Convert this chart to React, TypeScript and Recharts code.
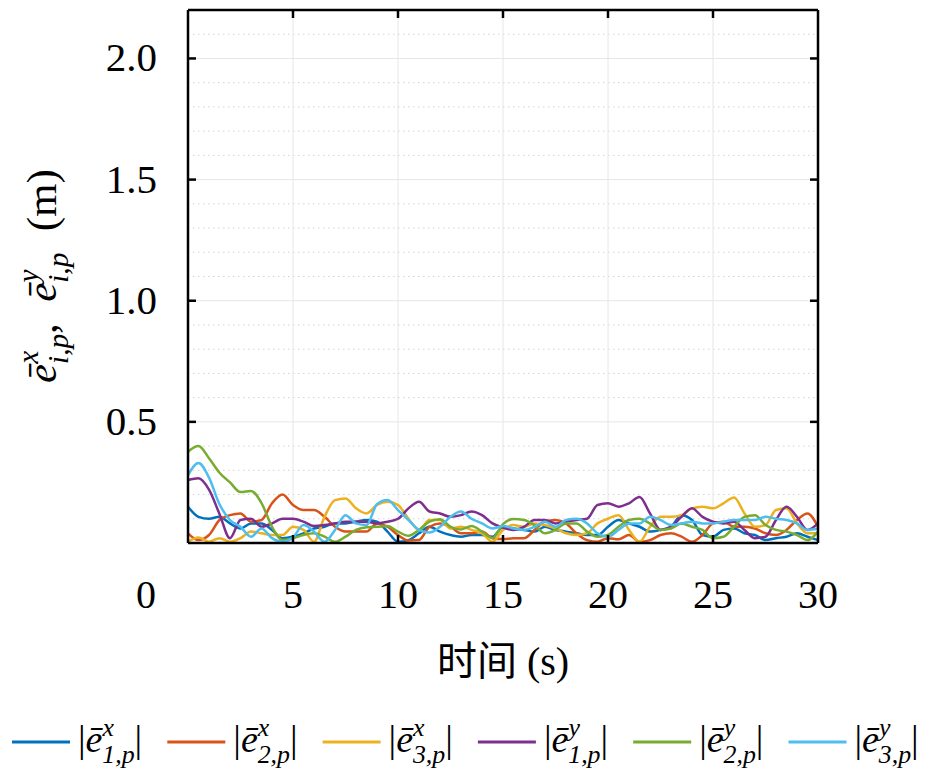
import { LineChart, Line, XAxis, YAxis, CartesianGrid } from "recharts";

const TIME = [
  0, 0.5, 1, 1.5, 2, 2.5, 3, 3.5, 4, 4.5,
  5, 5.5, 6, 6.5, 7, 7.5, 8, 8.5, 9, 9.5,
  10, 10.5, 11, 11.5, 12, 12.5, 13, 13.5, 14, 14.5,
  15, 15.5, 16, 16.5, 17, 17.5, 18, 18.5, 19, 19.5,
  20, 20.5, 21, 21.5, 22, 22.5, 23, 23.5, 24, 24.5,
  25, 25.5, 26, 26.5, 27, 27.5, 28, 28.5, 29, 29.5,
  30,
];

const E1X = [
  0.15, 0.108, 0.1, 0.108, 0.081, 0.06, 0.081, 0.081, 0.054, 0.02,
  0.026, 0.04, 0.06, 0.067, 0.081, 0.081, 0.088, 0.095, 0.088, 0.047,
  0.005, 0.012, 0.04, 0.067, 0.047, 0.033, 0.026, 0.033, 0.033, 0.026,
  0.065, 0.06, 0.054, 0.047, 0.067, 0.054, 0.047, 0.04, 0.033, 0.033,
  0.067, 0.095, 0.081, 0.067, 0.047, 0.054, 0.067, 0.115, 0.095, 0.033,
  0.026, 0.054, 0.06, 0.04, 0.033, 0.012, 0.02, 0.026, 0.04, 0.026,
  0.012,
];

const E2X = [
  0.04, 0.012, 0.033, 0.095, 0.115, 0.122, 0.088, 0.095, 0.164, 0.2,
  0.157, 0.136, 0.136, 0.108, 0.067, 0.047, 0.047, 0.047, 0.081, 0.067,
  0.033, 0.01, 0.012, 0.067, 0.081, 0.067, 0.04, 0.04, 0.047, 0.02,
  0.016, 0.02, 0.02, 0.054, 0.088, 0.095, 0.081, 0.04, 0.012, 0.005,
  0.02, 0.015, 0.033, 0.005, 0.012, 0.033, 0.04, 0.026, 0.005, 0.033,
  0.081, 0.088, 0.067, 0.067, 0.06, 0.04, 0.033, 0.054, 0.095, 0.122,
  0.067,
];

const E3X = [
  0.005, 0.023, 0.005, 0.02, 0.005, 0.02, 0.047, 0.04, 0.033, 0.033,
  0.067, 0.054, 0.005, 0.108, 0.177, 0.184, 0.143, 0.122, 0.157, 0.17,
  0.157, 0.1, 0.054, 0.095, 0.095, 0.06, 0.067, 0.054, 0.04, 0.005,
  0.054, 0.074, 0.067, 0.081, 0.074, 0.06, 0.04, 0.033, 0.04, 0.081,
  0.1, 0.115, 0.054, 0.005, 0.067, 0.108, 0.108, 0.115, 0.143, 0.15,
  0.143, 0.164, 0.188, 0.122, 0.067, 0.074, 0.136, 0.143, 0.081, 0.04,
  0.04,
];

const E1Y = [
  0.26, 0.267, 0.22, 0.12, 0.02, 0.095, 0.1, 0.067, 0.081, 0.1,
  0.1, 0.088, 0.07, 0.074, 0.081, 0.088, 0.088, 0.088, 0.081, 0.088,
  0.1, 0.143, 0.17, 0.13, 0.122, 0.108, 0.115, 0.13, 0.115, 0.081,
  0.064, 0.054, 0.067, 0.095, 0.095, 0.081, 0.088, 0.095, 0.1, 0.157,
  0.164, 0.15, 0.164, 0.19, 0.122, 0.054, 0.067, 0.108, 0.143, 0.108,
  0.088, 0.081, 0.088, 0.054, 0.02, 0.026, 0.095, 0.15, 0.108, 0.054,
  0.081,
];

const E2Y = [
  0.377, 0.4, 0.35, 0.29, 0.25, 0.21, 0.215, 0.165, 0.067, 0.012,
  0.02, 0.033, 0.04, 0.026, 0.005, 0.026, 0.054, 0.065, 0.067, 0.07,
  0.047, 0.03, 0.054, 0.088, 0.098, 0.067, 0.056, 0.07, 0.047, 0.02,
  0.078, 0.099, 0.095, 0.074, 0.04, 0.054, 0.081, 0.081, 0.047, 0.026,
  0.033, 0.067, 0.095, 0.1, 0.08, 0.054, 0.06, 0.08, 0.067, 0.054,
  0.02, 0.026, 0.067, 0.108, 0.115, 0.074, 0.054, 0.047, 0.033, 0.012,
  0.047,
];

const E3Y = [
  0.28, 0.33, 0.27, 0.16, 0.095, 0.067, 0.026, 0.06, 0.02, 0.005,
  0.023, 0.074, 0.047, 0.005, 0.054, 0.115, 0.081, 0.074, 0.16, 0.177,
  0.136, 0.095, 0.054, 0.043, 0.067, 0.108, 0.13, 0.1, 0.081, 0.06,
  0.07, 0.06, 0.054, 0.067, 0.088, 0.067, 0.095, 0.1, 0.081, 0.04,
  0.026, 0.054, 0.081, 0.081, 0.108, 0.095, 0.074, 0.081, 0.088, 0.081,
  0.081, 0.088, 0.095, 0.095, 0.095, 0.108, 0.1, 0.095, 0.081, 0.054,
  0.06,
];

const SERIES = [
  { key: "e1x", sup: "x", idx: "1", color: "#0072BD", values: E1X },
  { key: "e2x", sup: "x", idx: "2", color: "#D95319", values: E2X },
  { key: "e3x", sup: "x", idx: "3", color: "#EDB120", values: E3X },
  { key: "e1y", sup: "y", idx: "1", color: "#7E2F8E", values: E1Y },
  { key: "e2y", sup: "y", idx: "2", color: "#77AC30", values: E2Y },
  { key: "e3y", sup: "y", idx: "3", color: "#4DBEEE", values: E3Y },
];

const X_TICKS = [0, 5, 10, 15, 20, 25, 30];
const X_INNER = [5, 10, 15, 20, 25];
const Y_TICKS = [0.5, 1, 1.5, 2];
const Y_MINOR = [0.1, 0.2, 0.3, 0.4, 0.6, 0.7, 0.8, 0.9, 1.1, 1.2, 1.3, 1.4, 1.6, 1.7, 1.8, 1.9, 2.1];
const X_DOMAIN = [0, 30];
const Y_DOMAIN = [0, 2.2];

const DATA = TIME.map((t, i) => {
  const row: Record<string, number> = { t };
  SERIES.forEach((s) => (row[s.key] = s.values[i]));
  return row;
});

const FONT = "'Liberation Serif', 'Noto Sans CJK SC', serif";
const TICK_LEN = 8;
const AXIS_W = 2.5;

function BottomTick({ x, y, payload }: any) {
  const v = payload.value;
  return (
    <g>
      {v > 0 && v < 30 && (
        <line x1={x} x2={x} y1={y} y2={y - TICK_LEN} stroke="#000" strokeWidth={AXIS_W} />
      )}
      <text x={v === 0 ? x - 42 : x} y={y + 65} textAnchor="middle" fontSize={40} fontFamily={FONT} fill="#000">
        {v}
      </text>
    </g>
  );
}

function TopTick({ x, y }: any) {
  return <line x1={x} x2={x} y1={y} y2={y + TICK_LEN} stroke="#000" strokeWidth={AXIS_W} />;
}

function LeftTick({ x, y, payload }: any) {
  return (
    <g>
      <line x1={x} x2={x + TICK_LEN} y1={y} y2={y} stroke="#000" strokeWidth={AXIS_W} />
      <text x={x - 31} y={y + 13} textAnchor="end" fontSize={41} fontFamily={FONT} fill="#000">
        {payload.value.toFixed(1)}
      </text>
    </g>
  );
}

function RightTick({ x, y }: any) {
  return <line x1={x} x2={x - TICK_LEN} y1={y} y2={y} stroke="#000" strokeWidth={AXIS_W} />;
}

function XTitle({ viewBox }: any) {
  const { x, y, width } = viewBox;
  return (
    <text x={x + width / 2} y={y + 132} textAnchor="middle" fontSize={40} fontFamily={FONT} fill="#000">
      时间 (s)
    </text>
  );
}

// ē with stacked super/subscript; `tail` is drawn back on the baseline
function ErrSymbol({ sup, sub, size, tail }: { sup: string; sub: string; size: number; tail: string }) {
  const small = size * 0.68;
  return (
    <>
      <tspan fontStyle="italic">ē</tspan>
      <tspan fontStyle="italic" fontSize={small} dy={-size * 0.42}>{sup}</tspan>
      <tspan fontStyle="italic" fontSize={small} dx={-small * 0.45} dy={size * 0.7}>{sub}</tspan>
      <tspan dy={-size * 0.28}>{tail}</tspan>
    </>
  );
}

function Overlay() {
  return (
    <svg width={945} height={783} style={{ position: "absolute", left: 0, top: 0, pointerEvents: "none" }}>
      <text transform="translate(56,276) rotate(-90)" textAnchor="middle" fontSize={43} fontFamily={FONT} fill="#000" xmlSpace="preserve">
        <ErrSymbol sup="x" sub="i,p" size={43} tail=",  " />
        <ErrSymbol sup="y" sub="i,p" size={43} tail="  (m)" />
      </text>
      {SERIES.map((s, i) => {
        const x0 = 12 + i * 155.3;
        return (
          <g key={s.key}>
            <line x1={x0} x2={x0 + 58} y1={742} y2={742} stroke={s.color} strokeWidth={3} />
            <text x={x0 + 66} y={752} fontSize={38} fontFamily={FONT} fill="#000">
              |<ErrSymbol sup={s.sup} sub={`${s.idx},p`} size={38} tail="|" />
            </text>
          </g>
        );
      })}
    </svg>
  );
}

function minorLines({ yAxis, offset }: any) {
  if (yAxis && typeof yAxis.scale === "function") return Y_MINOR.map((v) => yAxis.scale(v));
  return Y_MINOR.map((v) => offset.top + offset.height * (1 - v / Y_DOMAIN[1]));
}

export default function App() {
  return (
    <div style={{ position: "absolute", left: 0, top: 0, width: 945, height: 783, background: "#fff" }}>
      <LineChart width={945} height={700} data={DATA} margin={{ top: 9, right: 126, bottom: 0, left: 0 }}>
        <CartesianGrid
          xAxisId="bottom"
          yAxisId="left"
          vertical={false}
          stroke="#d2d2d2"
          strokeDasharray="1.5 3.5"
          horizontalCoordinatesGenerator={minorLines}
        />
        <CartesianGrid xAxisId="bottom" yAxisId="left" stroke="#e6e6e6" />
        {SERIES.map((s) => (
          <Line
            key={s.key}
            xAxisId="bottom"
            yAxisId="left"
            dataKey={s.key}
            type="monotone"
            stroke={s.color}
            strokeWidth={2.5}
            dot={false}
            isAnimationActive={false}
          />
        ))}
        {/* invisible helper so the top/right frame axes get a scale */}
        <Line
          xAxisId="top"
          yAxisId="right"
          dataKey={SERIES[0].key}
          stroke="none"
          dot={false}
          activeDot={false}
          legendType="none"
          isAnimationActive={false}
        />
        <XAxis
          xAxisId="bottom"
          dataKey="t"
          type="number"
          domain={X_DOMAIN}
          ticks={X_TICKS}
          height={157}
          tickSize={0}
          tickMargin={0}
          tickLine={false}
          axisLine={{ stroke: "#000", strokeWidth: AXIS_W }}
          tick={<BottomTick />}
          label={<XTitle />}
        />
        <XAxis
          xAxisId="top"
          orientation="top"
          dataKey="t"
          type="number"
          domain={X_DOMAIN}
          ticks={X_INNER}
          height={1}
          tickSize={0}
          tickMargin={0}
          tickLine={false}
          axisLine={{ stroke: "#000", strokeWidth: AXIS_W }}
          tick={<TopTick />}
        />
        <YAxis
          yAxisId="left"
          type="number"
          domain={Y_DOMAIN}
          ticks={Y_TICKS}
          width={188}
          tickSize={0}
          tickMargin={0}
          tickLine={false}
          axisLine={{ stroke: "#000", strokeWidth: AXIS_W }}
          tick={<LeftTick />}
        />
        <YAxis
          yAxisId="right"
          orientation="right"
          type="number"
          domain={Y_DOMAIN}
          ticks={Y_TICKS}
          width={1}
          tickSize={0}
          tickMargin={0}
          tickLine={false}
          axisLine={{ stroke: "#000", strokeWidth: AXIS_W }}
          tick={<RightTick />}
        />
      </LineChart>
      <Overlay />
    </div>
  );
}
